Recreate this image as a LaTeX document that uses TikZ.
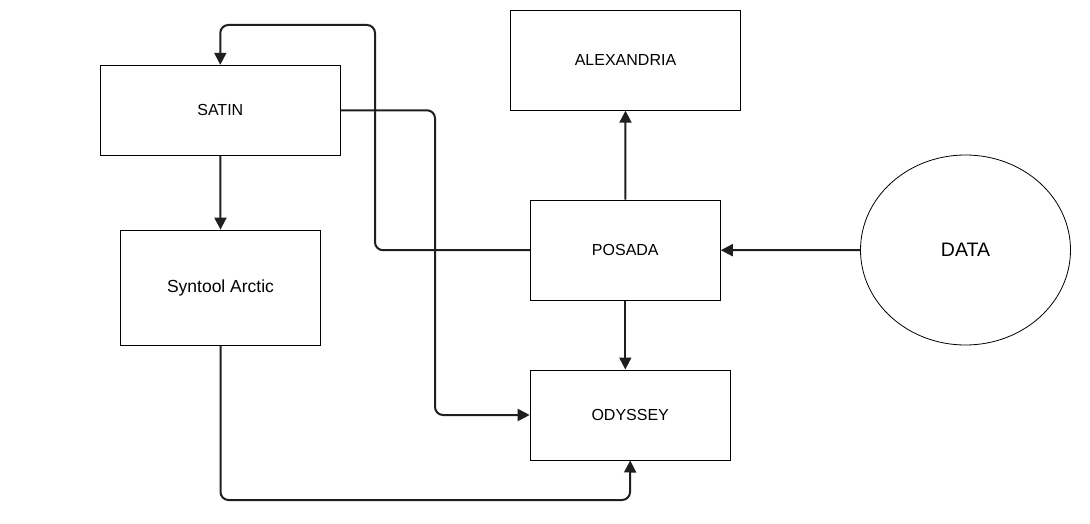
\documentclass[tikz,border=0pt]{standalone}
\usepackage{fontspec}
\setmainfont{Liberation Sans}
\usetikzlibrary{arrows.meta,shapes.geometric}
\begin{document}
\begin{tikzpicture}[x=1pt,y=-1pt,
  box/.style={draw=black,line width=1pt,rectangle,inner sep=0pt,font=\fontsize{16}{19}\selectfont},
  conn/.style={draw=black!88,line width=2pt,rounded corners=8pt,-{Triangle[length=12pt,width=12pt]}}]
\useasboundingbox[fill=white] (0,0) rectangle (1090,524);
\node[box,minimum width=240pt,minimum height=90pt] (satin) at (220.3,110.3) {SATIN};
\node[box,minimum width=200pt,minimum height=115pt,font=\fontsize{17.5}{20}\selectfont] (syn) at (220.5,287.6) {Syntool Arctic};
\node[box,minimum width=230pt,minimum height=100pt] (alex) at (625.5,60.2) {ALEXANDRIA};
\node[box,minimum width=190pt,minimum height=100pt] (posada) at (625.3,250.2) {POSADA};
\node[box,minimum width=200pt,minimum height=90pt] (odyssey) at (630.2,415) {ODYSSEY};
\node[draw=black,line width=0.8pt,ellipse,inner sep=0pt,minimum width=210pt,minimum height=190pt,font=\fontsize{19.5}{23}\selectfont] (data) at (965.5,250) {DATA};
\coordinate (c1) at (375,25);
\coordinate (c2) at (435,415);
\coordinate (c3) at (630,500);
\draw[conn] (posada.west) -| (c1) -| (satin.north);
\draw[conn] (satin.east) -| (c2) -- (odyssey.west);
\draw[conn] (satin.south) -- (syn.north);
\draw[conn] (posada.north) -- (alex.south);
\draw[conn] (posada.south) -- (posada.south |- odyssey.north);
\draw[conn] (data.west) -- (posada.east);
\draw[conn] (syn.south) |- (c3) -- (odyssey.south);
\end{tikzpicture}
\end{document}
